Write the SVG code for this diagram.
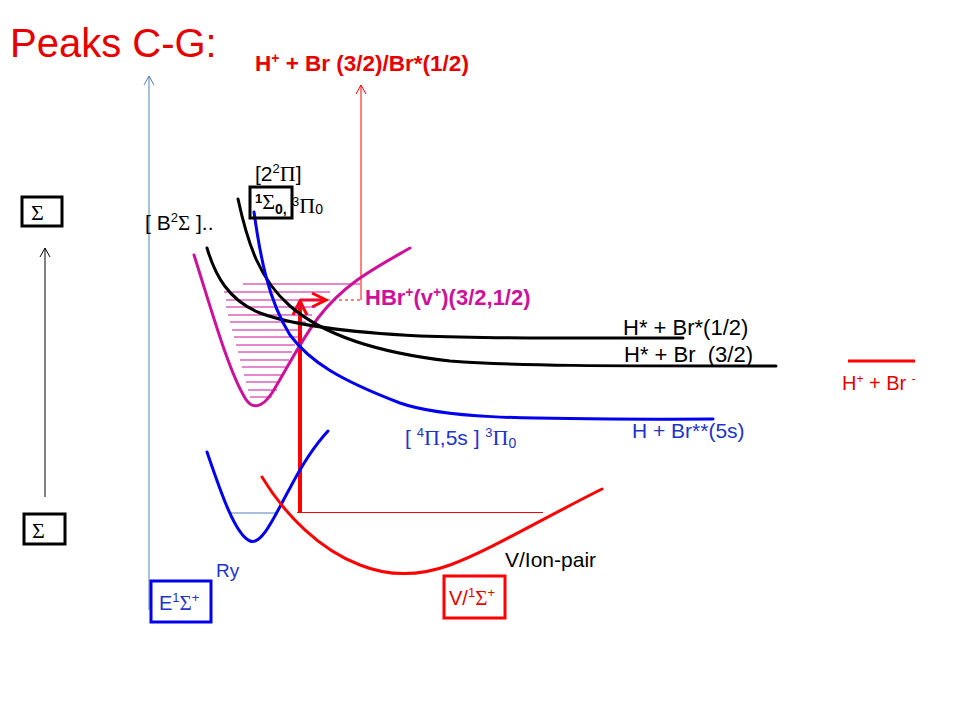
<svg xmlns="http://www.w3.org/2000/svg" width="960" height="720" viewBox="0 0 960 720">
<style>
.s{font-family:"Liberation Sans",Arial,sans-serif}
.g{font-family:"Liberation Serif","Times New Roman",serif}
.crv{fill:none;stroke-width:3;stroke-linecap:round}
.lvl{fill:none;stroke:#cc1299;stroke-width:1}
.box{fill:none;stroke-width:3}
.blk{fill:#000}
.blu{fill:#2233cc}
.red{fill:#e60000}
.mag{fill:#cc1299}
</style>
<defs>
<marker id="aSteel" markerUnits="userSpaceOnUse" markerWidth="12" markerHeight="12" viewBox="0 0 12 12" refX="11" refY="6" orient="auto"><path d="M2,1 L11,6 L2,11" fill="none" stroke="#4f81bd" stroke-width="1"/></marker>
<marker id="aBlack" markerUnits="userSpaceOnUse" markerWidth="12" markerHeight="12" viewBox="0 0 12 12" refX="11" refY="6" orient="auto"><path d="M2,1 L11,6 L2,11" fill="none" stroke="#000" stroke-width="1"/></marker>
<marker id="aRed" markerUnits="userSpaceOnUse" markerWidth="12" markerHeight="12" viewBox="0 0 12 12" refX="11" refY="6" orient="auto"><path d="M2,1 L11,6 L2,11" fill="none" stroke="#ff0000" stroke-width="1"/></marker>
<marker id="aRedThick" markerUnits="userSpaceOnUse" markerWidth="18" markerHeight="18" viewBox="0 0 18 18" refX="16" refY="9" orient="auto"><path d="M2,2 L16,9 L2,16" fill="none" stroke="#ff0000" stroke-width="3"/></marker>
</defs>
<rect width="960" height="720" fill="#fff"/>

<g id="title"><text x="10" y="57" class="s red" font-size="40">Peaks C-G:</text></g>

<g id="connectors">
<line x1="149" y1="610" x2="149" y2="76" stroke="#4f81bd" stroke-width="1" marker-end="url(#aSteel)"/>
<line x1="361" y1="300" x2="361" y2="85" stroke="#ff0000" stroke-width="1" marker-end="url(#aRed)"/>
<line x1="45" y1="497" x2="45" y2="248" stroke="#000" stroke-width="1" marker-end="url(#aBlack)"/>
<line x1="300" y1="512" x2="300" y2="301" stroke="#ff0000" stroke-width="4" marker-end="url(#aRedThick)"/>
<line x1="300" y1="300" x2="326" y2="300" stroke="#ff0000" stroke-width="3" marker-end="url(#aRedThick)"/>
<line x1="327" y1="300" x2="360" y2="300" stroke="#ff0000" stroke-width="1" stroke-dasharray="3,3"/>
<line x1="297" y1="512.5" x2="543" y2="512.5" stroke="#ff0000" stroke-width="1"/>
<line x1="230" y1="513" x2="278" y2="513" stroke="#4f81bd" stroke-width="1"/>
</g>

<g id="levels">
<path class="lvl" d="M243,284H360 M224,292H330 M226,300H322 M226,307H316 M228,315H312 M230,322H306 M232,330H302 M234,337H298 M236,345H295 M238,352H292 M240,360H289 M242,367H286 M244,375H283 M246,382H280 M248,390H277 M250,397H272"/>
</g>

<g id="curves">
<path id="hbr-ion" class="crv" stroke="#cc1299" d="M194,255 C210,305 228,370 245,398 C252,410 262,408 272,393 C285,372 300,342 318,318 C345,283 375,268 410,248"/>
<path id="black-32" class="crv" stroke="#000" d="M238,199 C248,245 260,280 290,306 C320,332 370,352 450,361 C520,366 600,366 776,366"/>
<path id="black-12" class="crv" stroke="#000" d="M207,248 C215,275 228,300 260,313 C290,324 340,332 420,336 C500,339 600,338 683,338"/>
<path id="blue-5s" class="crv" stroke="#0000ee" d="M254,212 C260,255 268,300 290,335 C310,362 340,380 400,403 C440,417 500,420 713,419"/>
<path id="ry" class="crv" stroke="#0000ee" d="M207,452 C220,490 235,535 250,541 C262,546 275,515 290,488 C303,463 315,445 328,431"/>
<path id="v-ionpair" class="crv" stroke="#ff0000" d="M262,477 C285,515 320,550 360,565 C390,577 420,576 450,565 C490,550 540,520 602,489"/>
<line id="ion-limit" x1="848" y1="361" x2="915" y2="361" stroke="#ff0000" stroke-width="3"/>
</g>

<g id="sigma-top">
<rect class="box" x="22" y="197" width="40" height="29" stroke="#000"/>
<text x="31" y="220" class="g blk" font-size="22">Σ</text>
</g>
<g id="sigma-bottom">
<rect class="box" x="24" y="514" width="41" height="30" stroke="#000"/>
<text x="32" y="538" class="g blk" font-size="22">Σ</text>
</g>

<g id="label-hplus-br">
<text x="255" y="71" class="s red" font-size="22.5" font-weight="bold">H<tspan font-size="14" dy="-8">+</tspan><tspan dy="8"> + Br (3/2)/Br*(1/2)</tspan></text>
</g>

<g id="label-22pi">
<text x="255" y="181" class="s blk" font-size="21">[2<tspan font-size="13" dy="-8">2</tspan><tspan class="g" font-size="22" dy="8">Π</tspan>]</text>
</g>

<g id="label-box-1sigma">
<rect class="box" x="250" y="187" width="42" height="31" stroke="#000"/>
<text x="255" y="209" class="s blk"><tspan font-size="13" font-weight="bold" dy="-6">1</tspan><tspan class="g" font-size="22" dy="6">Σ</tspan><tspan font-size="14" font-weight="bold" dy="5">0,</tspan></text>
<text x="292" y="213" class="s blk"><tspan font-size="13" dy="-7">3</tspan><tspan class="g" font-size="22" dy="7">Π</tspan><tspan font-size="14" dy="1">0</tspan></text>
</g>

<g id="label-b2sigma">
<text x="145" y="230" class="s blk" font-size="21">[ B<tspan font-size="13" dy="-8">2</tspan><tspan class="g" font-size="21" dy="8">Σ</tspan> ]..</text>
</g>

<g id="label-hbr-ion">
<text x="365" y="305" class="s mag" font-size="22" font-weight="bold">HBr<tspan font-size="14" dy="-8">+</tspan><tspan dy="8">(v</tspan><tspan font-size="14" dy="-8">+</tspan><tspan dy="8">)(3/2,1/2)</tspan></text>
</g>

<g id="label-h-br12">
<text x="623" y="335" class="s blk" font-size="22">H* + Br*(1/2)</text>
</g>
<g id="label-h-br32">
<text x="624" y="362" class="s blk" font-size="22" xml:space="preserve">H* + Br  (3/2)</text>
</g>

<g id="label-ionpair-limit">
<text x="842" y="390" class="s red" font-size="20">H<tspan font-size="12" dy="-7">+</tspan><tspan dy="7"> + Br </tspan><tspan font-size="12" dy="-7">-</tspan></text>
</g>

<g id="label-5s">
<text x="632" y="438" class="s blu" font-size="21">H + Br**(5s)</text>
</g>

<g id="label-4pi">
<text x="405" y="445" class="s blu" font-size="21">[ <tspan font-size="13" dy="-8">4</tspan><tspan class="g" font-size="22" dy="8">Π</tspan>,5s ] <tspan font-size="13" dy="-8">3</tspan><tspan class="g" font-size="22" dy="8">Π</tspan><tspan font-size="14" dy="3">0</tspan></text>
</g>

<g id="label-vionpair">
<text x="505" y="567" class="s blk" font-size="21">V/Ion-pair</text>
</g>

<g id="label-ry">
<text x="216" y="577" class="s blu" font-size="19">Ry</text>
</g>

<g id="box-e1sigma">
<rect class="box" x="151" y="581" width="60" height="41" stroke="#0000ee"/>
<text x="159" y="610" class="s blu" font-size="20">E<tspan font-size="13" dy="-8">1</tspan><tspan class="g" font-size="21" dy="8">Σ</tspan><tspan font-size="13" dy="-8">+</tspan></text>
</g>

<g id="box-v1sigma">
<rect class="box" x="444" y="576" width="61" height="42" stroke="#ff0000"/>
<text x="449" y="605" class="s red" font-size="20">V/<tspan font-size="13" dy="-8">1</tspan><tspan class="g" font-size="21" dy="8">Σ</tspan><tspan font-size="13" dy="-8">+</tspan></text>
</g>
</svg>
